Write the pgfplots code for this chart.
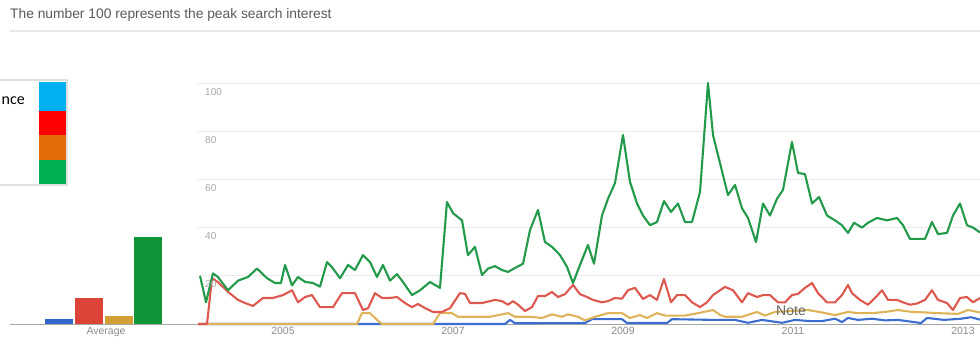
\documentclass[border=0pt]{standalone}
\usepackage{fontspec}
\setmainfont{Liberation Sans}
\newfontfamily\calibri{Carlito}
\usepackage{pgfplots}
\pgfplotsset{compat=1.18}
\definecolor{lgreen}{RGB}{34,154,74}
\definecolor{lred}{RGB}{221,88,78}
\definecolor{lorange}{RGB}{222,180,90}
\definecolor{lblue}{RGB}{60,110,210}
\definecolor{bblue}{RGB}{51,102,204}
\definecolor{bred}{RGB}{220,68,55}
\definecolor{borange}{RGB}{212,160,54}
\definecolor{bgreen}{RGB}{16,150,56}
\definecolor{lgcyan}{RGB}{0,176,240}
\definecolor{lgred}{RGB}{255,0,0}
\definecolor{lgorange}{RGB}{227,108,9}
\definecolor{lggreen}{RGB}{0,176,80}
\begin{document}
\begin{tikzpicture}
\useasboundingbox (0pt,0pt) rectangle (980pt,346pt);
% title
\node[anchor=west, inner sep=0pt, text=black!65, font=\fontsize{13.8}{15}\selectfont] at (10pt,331pt) {The number 100 represents the peak search interest};
\draw[line width=2pt, black!9] (10pt,315pt) -- (980pt,315pt);
% baseline
\draw[black!35, line width=1pt] (10pt,22pt) -- (980pt,22pt);

% average bars
\begin{axis}[at={(10pt,22pt)}, anchor=south west, scale only axis,
  width=188pt, height=241pt, xmin=10, xmax=198, ymin=0, ymax=100,
  axis line style={draw=none}, ytick=\empty,
  xtick={106}, xticklabels={Average}, major tick length=0pt,
  xticklabel style={font=\fontsize{10.5}{12}\selectfont, text=black!45}]
\addplot[ybar, bar width=28pt, bar shift=0pt, fill=bblue, draw=none] coordinates {(59,2)};
\addplot[ybar, bar width=28pt, bar shift=0pt, fill=bred, draw=none] coordinates {(89,10.9)};
\addplot[ybar, bar width=28pt, bar shift=0pt, fill=borange, draw=none] coordinates {(118.5,3.4)};
\addplot[ybar, bar width=28pt, bar shift=0pt, fill=bgreen, draw=none] coordinates {(147.5,36.2)};
\end{axis}

% main time series
\begin{axis}[at={(198pt,22pt)}, anchor=south west, scale only axis,
  width=782pt, height=241pt, xmin=2004, xmax=2013.2, ymin=0, ymax=100,
  axis line style={draw=none}, ytick={20,40,60,80,100}, yticklabels={},
  ymajorgrids, grid style={black!8, line width=0.8pt},
  xtick={2005,2007,2009,2011,2013}, xticklabels={2005,2007,2009,2011,2013},
  major tick length=0pt,
  xticklabel style={font=\fontsize{10.5}{12}\selectfont, text=black!45},
  clip=false]
\addplot[lblue, line width=2.1pt, line join=round] coordinates {
(2004.0,0) (2007.612,0) (2007.671,1.7) (2007.729,0.3) (2008.553,0.4) (2008.635,2)
(2008.988,2) (2009.047,0.4) (2009.518,0.4) (2009.576,2) (2010.082,1.7) (2010.318,1.7)
(2010.471,0.5) (2010.635,1.7) (2010.871,0.5) (2011.024,1.7) (2011.2,1.2) (2011.341,1.2)
(2011.494,2.2) (2011.576,0.8) (2011.647,2.5) (2011.765,1.7) (2011.929,2.2) (2012.082,1.5)
(2012.235,1.7) (2012.506,0.4) (2012.576,2.5) (2012.776,1.7) (2012.976,2.2) (2013.094,2.8) (2013.2,1.8)};
\addplot[lorange, line width=2.1pt, line join=round] coordinates {
(2004.0,0) (2005.871,0) (2005.929,4.5) (2006.024,4.5) (2006.106,1.7) (2006.165,0)
(2006.765,0) (2006.847,4.5) (2006.988,4.5) (2007.059,3) (2007.2,3) (2007.435,3)
(2007.647,4.5) (2007.729,3) (2007.906,3) (2008.047,2.5) (2008.165,4) (2008.282,3)
(2008.353,4) (2008.471,3) (2008.553,1.5) (2008.671,3) (2008.824,4.5) (2008.988,4.5)
(2009.082,2.5) (2009.2,3.7) (2009.282,2.5) (2009.4,4.5) (2009.494,3.5) (2009.729,3.5)
(2009.882,4.5) (2010.059,5.8) (2010.141,3.8) (2010.2,3) (2010.4,3) (2010.576,5)
(2010.671,3.5) (2010.788,5) (2011.176,5.8) (2011.341,4.8) (2011.494,3.7) (2011.647,5)
(2011.765,4.5) (2011.929,4.5) (2012.082,5) (2012.235,5.8) (2012.4,5) (2012.553,4.8)
(2012.706,4.5) (2012.941,4.2) (2013.059,5.8) (2013.2,4.8)};
\addplot[lred, line width=2.1pt, line join=round] coordinates {
(2004.0,0) (2004.106,0) (2004.165,19) (2004.235,17.4) (2004.353,13.3) (2004.471,10)
(2004.553,8.7) (2004.647,7.5) (2004.765,10.8) (2004.882,10.8) (2005.0,12) (2005.106,14)
(2005.176,9) (2005.259,11.2) (2005.341,12) (2005.435,7) (2005.588,7) (2005.694,12.8)
(2005.847,12.8) (2005.941,5.8) (2006.0,6.5) (2006.082,12.8) (2006.165,10.8) (2006.259,10.8)
(2006.341,11.2) (2006.435,8.7) (2006.518,7) (2006.588,8.3) (2006.671,6.6) (2006.765,5)
(2006.871,5) (2006.965,6.6) (2007.082,12.8) (2007.141,12.5) (2007.2,8.7) (2007.341,8.7)
(2007.494,10) (2007.576,9.5) (2007.647,8) (2007.706,9.5) (2007.765,8) (2007.847,5.4)
(2007.929,7) (2008.0,11.6) (2008.082,11.6) (2008.165,13.3) (2008.235,11.2) (2008.318,12.4)
(2008.412,16.2) (2008.494,12.4) (2008.576,11.2) (2008.647,10) (2008.753,9) (2008.824,9.5)
(2008.906,10.8) (2008.988,10.5) (2009.059,14) (2009.141,15) (2009.235,10.4) (2009.318,12)
(2009.4,10) (2009.482,18.7) (2009.565,9) (2009.635,12) (2009.729,12) (2009.812,9)
(2009.906,7) (2009.988,9) (2010.059,12) (2010.2,15.4) (2010.294,14) (2010.4,9)
(2010.471,12.8) (2010.576,11.2) (2010.647,12) (2010.729,12) (2010.824,9) (2010.906,9)
(2010.988,12) (2011.059,12.5) (2011.141,15) (2011.224,17) (2011.294,12.8) (2011.4,9)
(2011.494,9) (2011.576,12) (2011.647,16.2) (2011.694,12.8) (2011.788,10) (2011.882,8)
(2011.965,10.8) (2012.047,14) (2012.118,10) (2012.224,10) (2012.294,9) (2012.376,8)
(2012.459,8.5) (2012.553,10) (2012.635,14) (2012.706,10) (2012.812,8.7) (2012.882,5.8)
(2012.965,10.8) (2013.047,11.2) (2013.118,9) (2013.2,10.8)};
\addplot[lgreen, line width=2.1pt, line join=round] coordinates {
(2004.024,20) (2004.094,9) (2004.176,21) (2004.235,19.5) (2004.353,14) (2004.471,18)
(2004.588,19.5) (2004.694,23) (2004.812,19) (2004.906,17) (2004.976,17) (2005.024,24.5)
(2005.106,16) (2005.176,19.5) (2005.259,17.5) (2005.353,17) (2005.435,15.5) (2005.518,25.7)
(2005.576,23.6) (2005.671,19) (2005.765,24.5) (2005.847,22.4) (2005.941,28.6) (2006.024,25.7)
(2006.106,19.5) (2006.176,24.5) (2006.259,18) (2006.341,20.7) (2006.412,17.4) (2006.518,12)
(2006.612,14) (2006.729,17.4) (2006.847,15) (2006.929,50.6) (2007.0,46) (2007.106,43)
(2007.176,28.6) (2007.259,32) (2007.341,20.3) (2007.412,23) (2007.494,24) (2007.576,22.4)
(2007.647,21.6) (2007.753,23.7) (2007.824,25) (2007.906,39) (2008.0,47.3) (2008.082,34)
(2008.165,32) (2008.259,28.6) (2008.341,23.7) (2008.412,17) (2008.494,24.5) (2008.588,32.8)
(2008.659,25) (2008.753,45) (2008.824,52) (2008.906,58.5) (2009.0,78.4) (2009.082,59)
(2009.165,50) (2009.235,45) (2009.318,41) (2009.4,42.3) (2009.482,51) (2009.565,46.5)
(2009.647,50) (2009.729,42.3) (2009.812,42.3) (2009.906,54.8) (2010.0,100) (2010.059,78.4)
(2010.141,66.8) (2010.235,53.5) (2010.318,57.7) (2010.4,48) (2010.471,44) (2010.565,34)
(2010.647,50) (2010.729,45) (2010.812,52) (2010.882,55.6) (2010.988,75.5) (2011.059,62.7)
(2011.141,62.2) (2011.224,50) (2011.306,52.7) (2011.4,45) (2011.494,43) (2011.576,41)
(2011.647,37.8) (2011.718,42) (2011.812,40) (2011.882,42) (2011.988,44) (2012.106,43)
(2012.224,44) (2012.294,41) (2012.376,35.3) (2012.553,35.3) (2012.635,42.3) (2012.706,37.3)
(2012.812,37.8) (2012.882,45) (2012.965,50) (2013.047,41) (2013.118,40) (2013.2,38)};
\end{axis}
% y tick labels inside the plot (main axis: x 198..980, y 22..263)
\foreach \v/\yy in {20/70.2,40/118.4,60/166.6,80/214.8,100/263} {
  \node[anchor=north west, inner sep=0pt, font=\fontsize{10}{11}\selectfont, text=black!35]
    at (205pt,\yy pt-5pt) {\v};
}
\node[inner sep=0pt, font=\fontsize{14}{15}\selectfont, text=black!60] at (791pt,35pt) {Note};

% overlaid legend box
\draw[black!12, line width=1.5pt, fill=white] (-5pt,161pt) rectangle (67pt,266pt);
\node[anchor=east, inner sep=0pt, font=\calibri\fontsize{16}{18}\selectfont] at (25pt,245pt) {nce};
\fill[lgcyan] (39pt,235pt) rectangle (66pt,264pt);
\fill[lgred] (39pt,211pt) rectangle (66pt,235pt);
\fill[lgorange] (39pt,186pt) rectangle (66pt,211pt);
\fill[lggreen] (39pt,162pt) rectangle (66pt,186pt);
\end{tikzpicture}
\end{document}
